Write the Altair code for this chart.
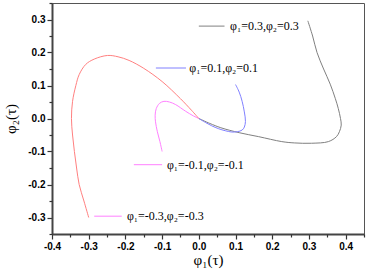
import altair as alt
import pandas as pd

# Curves (phi1, phi2) traced along the trajectory
gray_x = [0.297, 0.31, 0.322, 0.34, 0.358, 0.372, 0.38, 0.386, 0.388, 0.383, 0.375, 0.353, 0.307, 0.26, 0.226, 0.163, 0.11, 0.06, 0.03, 0.0]
gray_y = [0.296, 0.25, 0.2, 0.15, 0.104, 0.06, 0.03, 0.0, -0.02, -0.04, -0.055, -0.07, -0.075, -0.074, -0.07, -0.055, -0.043, -0.028, -0.015, 0.0]

blue_x = [0.1, 0.11, 0.118, 0.124, 0.127, 0.124, 0.118, 0.105, 0.09, 0.072, 0.054, 0.035, 0.018, 0.0]
blue_y = [0.103, 0.08, 0.052, 0.02, -0.009, -0.026, -0.035, -0.04, -0.041, -0.037, -0.031, -0.022, -0.012, 0.0]

mag_x = [-0.1, -0.106, -0.113, -0.118, -0.119, -0.116, -0.107, -0.095, -0.08, -0.063, -0.036, -0.015, 0.0]
mag_y = [-0.1, -0.07, -0.04, -0.01, 0.01, 0.03, 0.046, 0.052, 0.05, 0.042, 0.022, 0.008, 0.0]

red_x = [-0.3, -0.313, -0.326, -0.333, -0.339, -0.344, -0.347, -0.344, -0.335, -0.326, -0.308, -0.285, -0.249, -0.22, -0.19, -0.15, -0.1, -0.05, -0.02, 0.0]
red_y = [-0.3, -0.25, -0.2, -0.15, -0.1, -0.05, 0.0, 0.052, 0.1, 0.133, 0.164, 0.18, 0.191, 0.187, 0.176, 0.152, 0.112, 0.06, 0.025, 0.0]

series_names = ["gray", "blue", "magenta", "red"]
series_colors = ["#808080", "#8080ff", "#ff80ff", "#ff8080"]

# Legend-like annotations placed beside curves
legend_labels = ["φ₁=0.3,φ₂=0.3", "φ₁=0.1,φ₂=0.1", "φ₁=-0.1,φ₂=-0.1", "φ₁=-0.3,φ₂=-0.3"]
legend_colors = ["#808080", "#8080ff", "#ff80ff", "#ff80ff"]
legend_x1 = [0.0, -0.117, -0.177, -0.285]
legend_x2 = [0.07, -0.035, -0.1, -0.21]
legend_y = [0.28, 0.153, -0.14, -0.296]
legend_tx = [0.085, -0.026, -0.087, -0.196]

x_major = [-0.4, -0.3, -0.2, -0.1, 0.0, 0.1, 0.2, 0.3, 0.4]
x_minor = [-0.35, -0.25, -0.15, -0.05, 0.05, 0.15, 0.25, 0.35, 0.45]
y_major = [-0.3, -0.2, -0.1, 0.0, 0.1, 0.2, 0.3]
y_minor = [-0.35, -0.25, -0.15, -0.05, 0.05, 0.15, 0.25, 0.35]

rows = []
for name, xs, ys in [("gray", gray_x, gray_y), ("blue", blue_x, blue_y), ("magenta", mag_x, mag_y), ("red", red_x, red_y)]:
    for i, (a, b) in enumerate(zip(xs, ys)):
        rows.append({"s": name, "x": a, "y": b, "i": i})
curves = pd.DataFrame(rows)

leg = pd.DataFrame({"label": legend_labels, "c": legend_colors, "x1": legend_x1,
                    "x2": legend_x2, "y": legend_y, "tx": legend_tx})

lab = "replace(format(datum.value, '.1f'), '\u2212', '-')"

xscale = alt.Scale(domain=[-0.4, 0.45], nice=False, zero=False)
yscale = alt.Scale(domain=[-0.35, 0.35], nice=False, zero=False)

common = dict(labelExpr=lab, grid=False, labelOverlap=False, labelBound=False, labelFlush=False,
              tickSize=5, tickColor="#333", tickWidth=1.2,
              domainColor="#444", domainWidth=2,
              labelFont="Liberation Sans", labelFontWeight="bold", labelFontSize=10,
              labelColor="#000", labelPadding=2,
              titleFont="Liberation Serif", titleFontSize=15, titleFontWeight="normal",
              titleColor="#000")

minor = dict(grid=False, labels=False, domain=False, title=None,
             tickSize=3, tickColor="#333", tickWidth=1.2)

xaxis = alt.Axis(values=x_major, title="φ₁(τ)", orient="bottom", titleY=25,
                 titleBaseline="middle", **common)
yaxis = alt.Axis(values=y_major, title="φ₂(τ)", orient="left", titlePadding=9, **common)
xminor = alt.Axis(values=x_minor, orient="bottom", **minor)
yminor = alt.Axis(values=y_minor, orient="left", **minor)

lines = alt.Chart(curves).mark_line(strokeWidth=1, interpolate="catmull-rom").encode(
    x=alt.X("x:Q", scale=xscale, axis=xaxis),
    y=alt.Y("y:Q", scale=yscale, axis=yaxis),
    color=alt.Color("s:N", scale=alt.Scale(domain=series_names, range=series_colors), legend=None),
    order="i:Q",
    detail="s:N",
)

leg_lines = alt.Chart(leg).mark_rule(strokeWidth=1).encode(
    x=alt.X("x1:Q", scale=xscale, axis=xminor),
    x2="x2:Q",
    y=alt.Y("y:Q", scale=yscale, axis=yminor),
    color=alt.Color("c:N", scale=None),
)

leg_text = alt.Chart(leg).mark_text(align="left", baseline="middle", font="Liberation Serif",
                                    fontSize=12, color="#000").encode(
    x=alt.X("tx:Q", scale=xscale, axis=None),
    y=alt.Y("y:Q", scale=yscale, axis=None),
    text="label:N",
)

chart = alt.layer(lines, leg_lines, leg_text).resolve_axis(
    x="independent", y="independent"
).properties(
    width=312, height=231,
    autosize=alt.AutoSizeParams(type="none"),
    padding={"left": 52, "top": 3, "right": 2, "bottom": 43},
    background="white",
).configure_view(stroke="#555", strokeWidth=1)

chart.save("out.html", embed_options={"renderer": "svg", "actions": False})
